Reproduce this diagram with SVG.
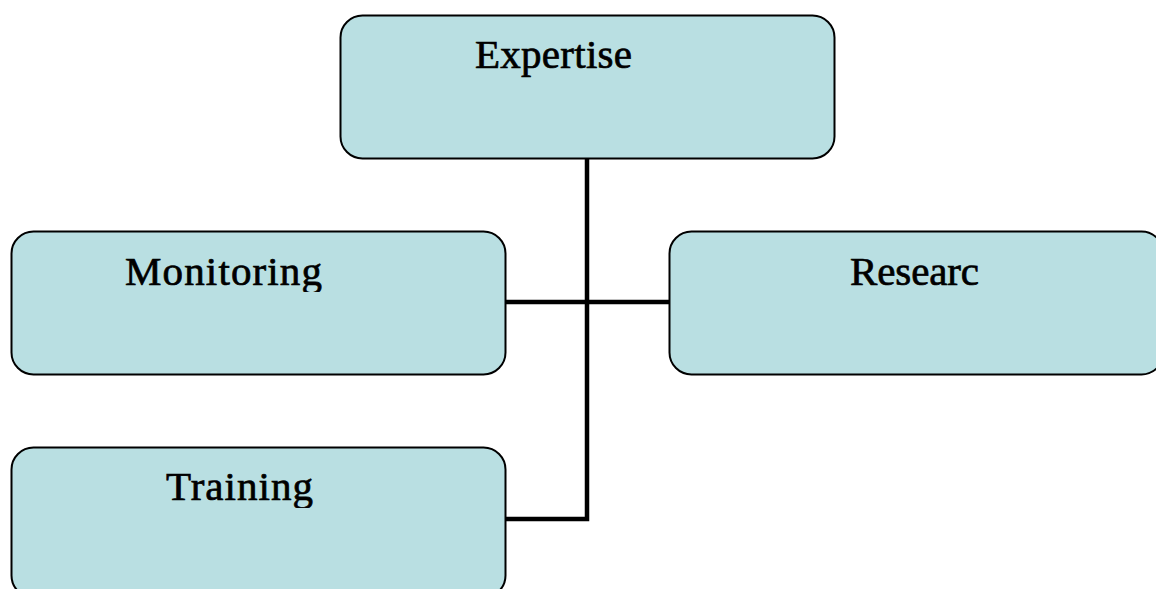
<svg xmlns="http://www.w3.org/2000/svg" width="1156" height="589" viewBox="0 0 1156 589">
<style>
.box{fill:#b9dfe2;stroke:#000;stroke-width:2}
.lbl{font-family:"Liberation Serif","DejaVu Serif",serif;font-size:41px;fill:#000;stroke:#000;stroke-width:0.7}
.conn{fill:none;stroke:#000;stroke-width:4.5;stroke-linecap:square}
</style>
<defs>
<clipPath id="cm"><rect x="0" y="230" width="520" height="62"/></clipPath>
<clipPath id="ct"><rect x="0" y="446" width="520" height="62"/></clipPath>
</defs>
<rect width="1156" height="589" fill="#fff"/>
<g id="connectors">
<path class="conn" d="M587,159 V519 H505"/>
<path class="conn" d="M505,302 H669"/>
</g>
<g id="expertise">
<rect class="box" x="340.5" y="15.5" width="494" height="143" rx="22"/>
<text class="lbl" x="475" y="68" textLength="157">Expertise</text>
</g>
<g id="monitoring">
<rect class="box" x="11.5" y="231.5" width="494" height="143" rx="22"/>
<text class="lbl" x="125" y="285" textLength="197" clip-path="url(#cm)">Monitoring</text>
</g>
<g id="research">
<rect class="box" x="669.5" y="231.5" width="494" height="143" rx="22"/>
<text class="lbl" x="850" y="285" textLength="129">Researc</text>
</g>
<g id="training">
<rect class="box" x="11.5" y="447.5" width="494" height="150" rx="22"/>
<text class="lbl" x="166" y="500" textLength="147" clip-path="url(#ct)">Training</text>
</g>
</svg>
